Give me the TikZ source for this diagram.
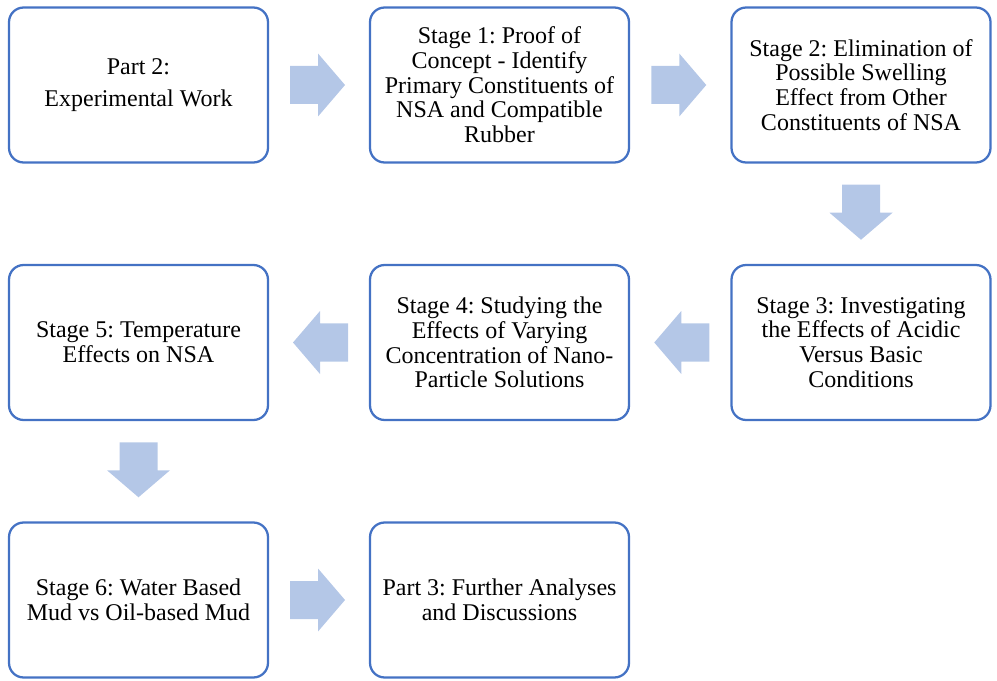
\documentclass[tikz,border=0pt]{standalone}
\usepackage{fontspec}
\setmainfont{Liberation Serif}
\usetikzlibrary{calc}
\definecolor{boxline}{HTML}{4472C4}
\definecolor{arrowfill}{HTML}{B4C7E7}
\tikzset{
  stagebox/.style={draw=boxline, line width=1.7pt, fill=white, rounded corners=11pt,
    minimum width=194.25pt, minimum height=116.25pt, inner sep=0pt, align=center,
    font=\fontsize{18pt}{18.5pt}\selectfont\frenchspacing},
  barrow/.pic={
    \fill[arrowfill] (-27.5,-19) -- (0.5,-19) -- (0.5,-31.5) -- (27.5,0)
      -- (0.5,31.5) -- (0.5,19) -- (-27.5,19) -- cycle;
  }
}
\begin{document}
\begin{tikzpicture}[x=0.75pt,y=-0.75pt]
\useasboundingbox (0,0) rectangle (997,681);
% stage boxes, three columns and three rows
\node[stagebox] (p2) at (138.5,85) {Part 2:\\[6pt]Experimental Work};
\node[stagebox] (s1) at (499.5,85) {Stage 1: Proof of\\Concept - Identify\\Primary Constituents of\\NSA and Compatible\\Rubber};
\node[stagebox] (s2) at (861,85) {Stage 2: Elimination of\\Possible Swelling\\Effect from Other\\Constituents of NSA};
\node[stagebox] (s3) at (861,342.5) {Stage 3: Investigating\\the Effects of Acidic\\Versus Basic\\Conditions};
\node[stagebox] (s4) at (499.5,342.5) {Stage 4: Studying the\\Effects of Varying\\Concentration of Nano-\\Particle Solutions};
\node[stagebox] (s5) at (138.5,342.5) {Stage 5: Temperature\\Effects on NSA};
\node[stagebox] (s6) at (138.5,600) {Stage 6: Water Based\\Mud vs Oil-based Mud};
\node[stagebox] (p3) at (499.5,600) {Part 3: Further Analyses\\and Discussions};
% block arrows between consecutive boxes
\pic at ($(p2.east)!0.5!(s1.west)+(-1.5,0)$) {barrow};
\pic at ($(s1.east)!0.5!(s2.west)+(-1.5,0)$) {barrow};
\pic[rotate=-90] at ($(s2.south)!0.5!(s3.north)+(0,-1.5)$) {barrow};
\pic[rotate=180] at ($(s3.west)!0.5!(s4.east)+(1.5,0)$) {barrow};
\pic[rotate=180] at ($(s4.west)!0.5!(s5.east)+(1.5,0)$) {barrow};
\pic[rotate=-90] at ($(s5.south)!0.5!(s6.north)+(0,-1.5)$) {barrow};
\pic at ($(s6.east)!0.5!(p3.west)+(-1.5,0)$) {barrow};
\end{tikzpicture}
\end{document}
